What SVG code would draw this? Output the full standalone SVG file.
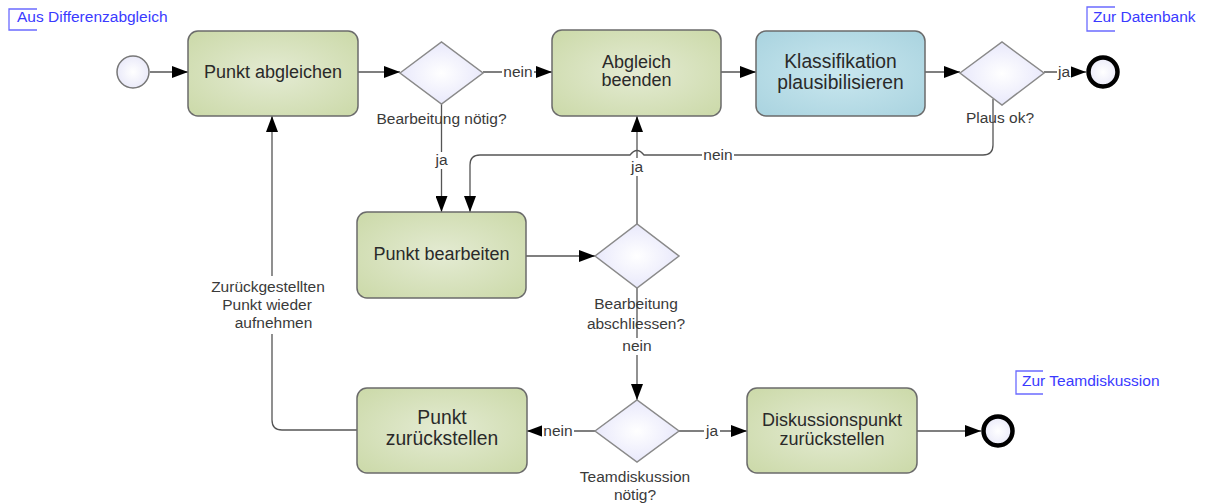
<svg xmlns="http://www.w3.org/2000/svg" width="1210" height="504" viewBox="0 0 1210 504">
<style>
text{font-family:"Liberation Sans",Arial,sans-serif;}
.task{stroke:#6b6b6b;stroke-width:1.5;}
.green{fill:url(#gGreen);}
.blue{fill:url(#gBlue);}
.gw{fill:url(#gGw);stroke:#8a8a8a;stroke-width:1.5;}
.nt{font-size:18px;fill:#2a2a2a;text-anchor:middle;}
.nt2{font-size:19.3px;fill:#2a2a2a;text-anchor:middle;}
.lb{font-size:15.5px;fill:#3a3a3a;text-anchor:middle;}
.link{font-size:15.5px;fill:#3a3aff;}
.br{fill:none;stroke:#6b6bff;stroke-width:1.3;}
.e{fill:none;stroke:#555;stroke-width:1.3;}
.ea{fill:none;stroke:#555;stroke-width:1.3;marker-end:url(#arr);}
.bg{fill:#fff;}
</style>
<defs>
<radialGradient id="gGreen" cx="50%" cy="50%" r="70%">
<stop offset="0" stop-color="#e4ebd3"/>
<stop offset="1" stop-color="#cbd9a8"/>
</radialGradient>
<radialGradient id="gBlue" cx="50%" cy="50%" r="70%">
<stop offset="0" stop-color="#c9e7ef"/>
<stop offset="1" stop-color="#a9d3df"/>
</radialGradient>
<radialGradient id="gGw" cx="50%" cy="50%" r="60%">
<stop offset="0" stop-color="#ffffff"/>
<stop offset="1" stop-color="#e4e4fa"/>
</radialGradient>
<radialGradient id="gEv" cx="50%" cy="50%" r="60%">
<stop offset="0" stop-color="#ffffff"/>
<stop offset="1" stop-color="#e6e6f8"/>
</radialGradient>
<marker id="arr" markerUnits="userSpaceOnUse" markerWidth="16" markerHeight="12" refX="16" refY="6" orient="auto">
<path d="M0,0 L16,6 L0,12 z" fill="#000"/>
</marker>
</defs>
<rect width="1210" height="504" fill="#fff"/>

<g id="connectors">
<line class="ea" x1="150" y1="72" x2="188" y2="72"/>
<line class="ea" x1="358" y1="72" x2="400" y2="72"/>
<line class="ea" x1="483" y1="72" x2="552" y2="72"/>
<line class="ea" x1="721" y1="72" x2="756" y2="72"/>
<line class="ea" x1="925" y1="72" x2="960" y2="72"/>
<line class="ea" x1="1044" y1="72" x2="1086" y2="72"/>
<path class="ea" d="M993,99 V145 Q993,155 983,155 H644 Q637,146 630,155 H480 Q470,155 470,165 V212"/>
<line class="ea" x1="441.5" y1="104" x2="441.5" y2="212"/>
<line class="ea" x1="637" y1="224" x2="637" y2="116"/>
<line class="ea" x1="526" y1="256" x2="595" y2="256"/>
<line class="ea" x1="637" y1="288" x2="637" y2="400"/>
<line class="ea" x1="595" y1="431" x2="527" y2="431"/>
<line class="ea" x1="679" y1="431" x2="747" y2="431"/>
<line class="ea" x1="917" y1="431" x2="981" y2="431"/>
<path class="ea" d="M357,430 H282 Q272,430 272,420 V116"/>
<rect class="bg" x="502" y="64" width="32" height="16"/>
<text class="lb" x="518" y="77">nein</text>
<rect class="bg" x="1057" y="64" width="14" height="16"/>
<text class="lb" x="1064" y="77">ja</text>
<rect class="bg" x="702" y="147" width="32" height="16"/>
<text class="lb" x="718" y="160">nein</text>
<rect class="bg" x="433" y="152" width="17" height="17"/>
<text class="lb" x="441.5" y="165">ja</text>
<rect class="bg" x="628" y="158" width="18" height="18"/>
<text class="lb" x="637" y="172">ja</text>
<rect class="bg" x="620" y="338" width="34" height="17"/>
<text class="lb" x="637" y="351">nein</text>
<rect class="bg" x="542" y="423" width="32" height="16"/>
<text class="lb" x="558" y="436">nein</text>
<rect class="bg" x="704" y="423" width="16" height="16"/>
<text class="lb" x="712" y="436">ja</text>
<rect class="bg" x="207" y="276" width="124" height="58"/>
<text class="lb" x="268" y="291.5">Zurückgestellten</text>
<text class="lb" x="267" y="309.5">Punkt wieder</text>
<text class="lb" x="273.5" y="327.5">aufnehmen</text>
</g>

<g id="start">
<circle cx="133" cy="72" r="16" fill="url(#gEv)" stroke="#777" stroke-width="1.5"/>
</g>
<g id="punkt-abgleichen">
<rect class="task green" x="188" y="31" width="170" height="85" rx="10"/>
<text class="nt" x="273" y="78">Punkt abgleichen</text>
</g>
<g id="gw-bearbeitung-noetig">
<polygon class="gw" points="400,73 441.5,42 483,73 441.5,104"/>
<text class="lb" x="441.5" y="124">Bearbeitung nötig?</text>
</g>
<g id="abgleich-beenden">
<rect class="task green" x="552" y="30" width="169" height="86" rx="10"/>
<text class="nt" x="636.5" y="68">Abgleich</text>
<text class="nt" x="636.5" y="86">beenden</text>
</g>
<g id="klassifikation">
<rect class="task blue" x="756" y="31" width="169" height="85" rx="10"/>
<text class="nt2" x="840.5" y="67.5">Klassifikation</text>
<text class="nt2" x="840.5" y="88.5">plausibilisieren</text>
</g>
<g id="gw-plaus">
<polygon class="gw" points="960,73 1002,42 1044,73 1002,105"/>
<text class="lb" x="1000" y="123">Plaus ok?</text>
</g>
<g id="end-datenbank">
<circle cx="1103" cy="72" r="14.5" fill="url(#gEv)" stroke="#000" stroke-width="4.5"/>
</g>
<g id="link-aus">
<path class="br" d="M37,9 H9 V30 H37"/>
<text class="link" x="17" y="22">Aus Differenzabgleich</text>
</g>
<g id="link-datenbank">
<path class="br" d="M1115,7 H1087 V31 H1115"/>
<text class="link" x="1093" y="22">Zur Datenbank</text>
</g>
<g id="punkt-bearbeiten">
<rect class="task green" x="357" y="212" width="169" height="86" rx="10"/>
<text class="nt" x="441.5" y="260">Punkt bearbeiten</text>
</g>
<g id="gw-abschliessen">
<polygon class="gw" points="595,256 637,224 679,256 637,288"/>
<text class="lb" x="636" y="309">Bearbeitung</text>
<text class="lb" x="636" y="329">abschliessen?</text>
</g>
<g id="gw-teamdiskussion">
<polygon class="gw" points="595,431 637,400 679,431 637,462"/>
<text class="lb" x="635" y="482">Teamdiskussion</text>
<text class="lb" x="635" y="500">nötig?</text>
</g>
<g id="punkt-zurueckstellen">
<rect class="task green" x="357" y="388" width="170" height="85" rx="10"/>
<text class="nt2" x="442" y="424">Punkt</text>
<text class="nt2" x="442" y="445">zurückstellen</text>
</g>
<g id="diskussionspunkt">
<rect class="task green" x="747" y="388" width="170" height="85" rx="10"/>
<text class="nt" x="832" y="426">Diskussionspunkt</text>
<text class="nt" x="832" y="445">zurückstellen</text>
</g>
<g id="end-team">
<circle cx="998" cy="431" r="14.5" fill="url(#gEv)" stroke="#000" stroke-width="4.5"/>
</g>
<g id="link-team">
<path class="br" d="M1043,371 H1016 V394 H1043"/>
<text class="link" x="1022" y="386">Zur Teamdiskussion</text>
</g>
</svg>
